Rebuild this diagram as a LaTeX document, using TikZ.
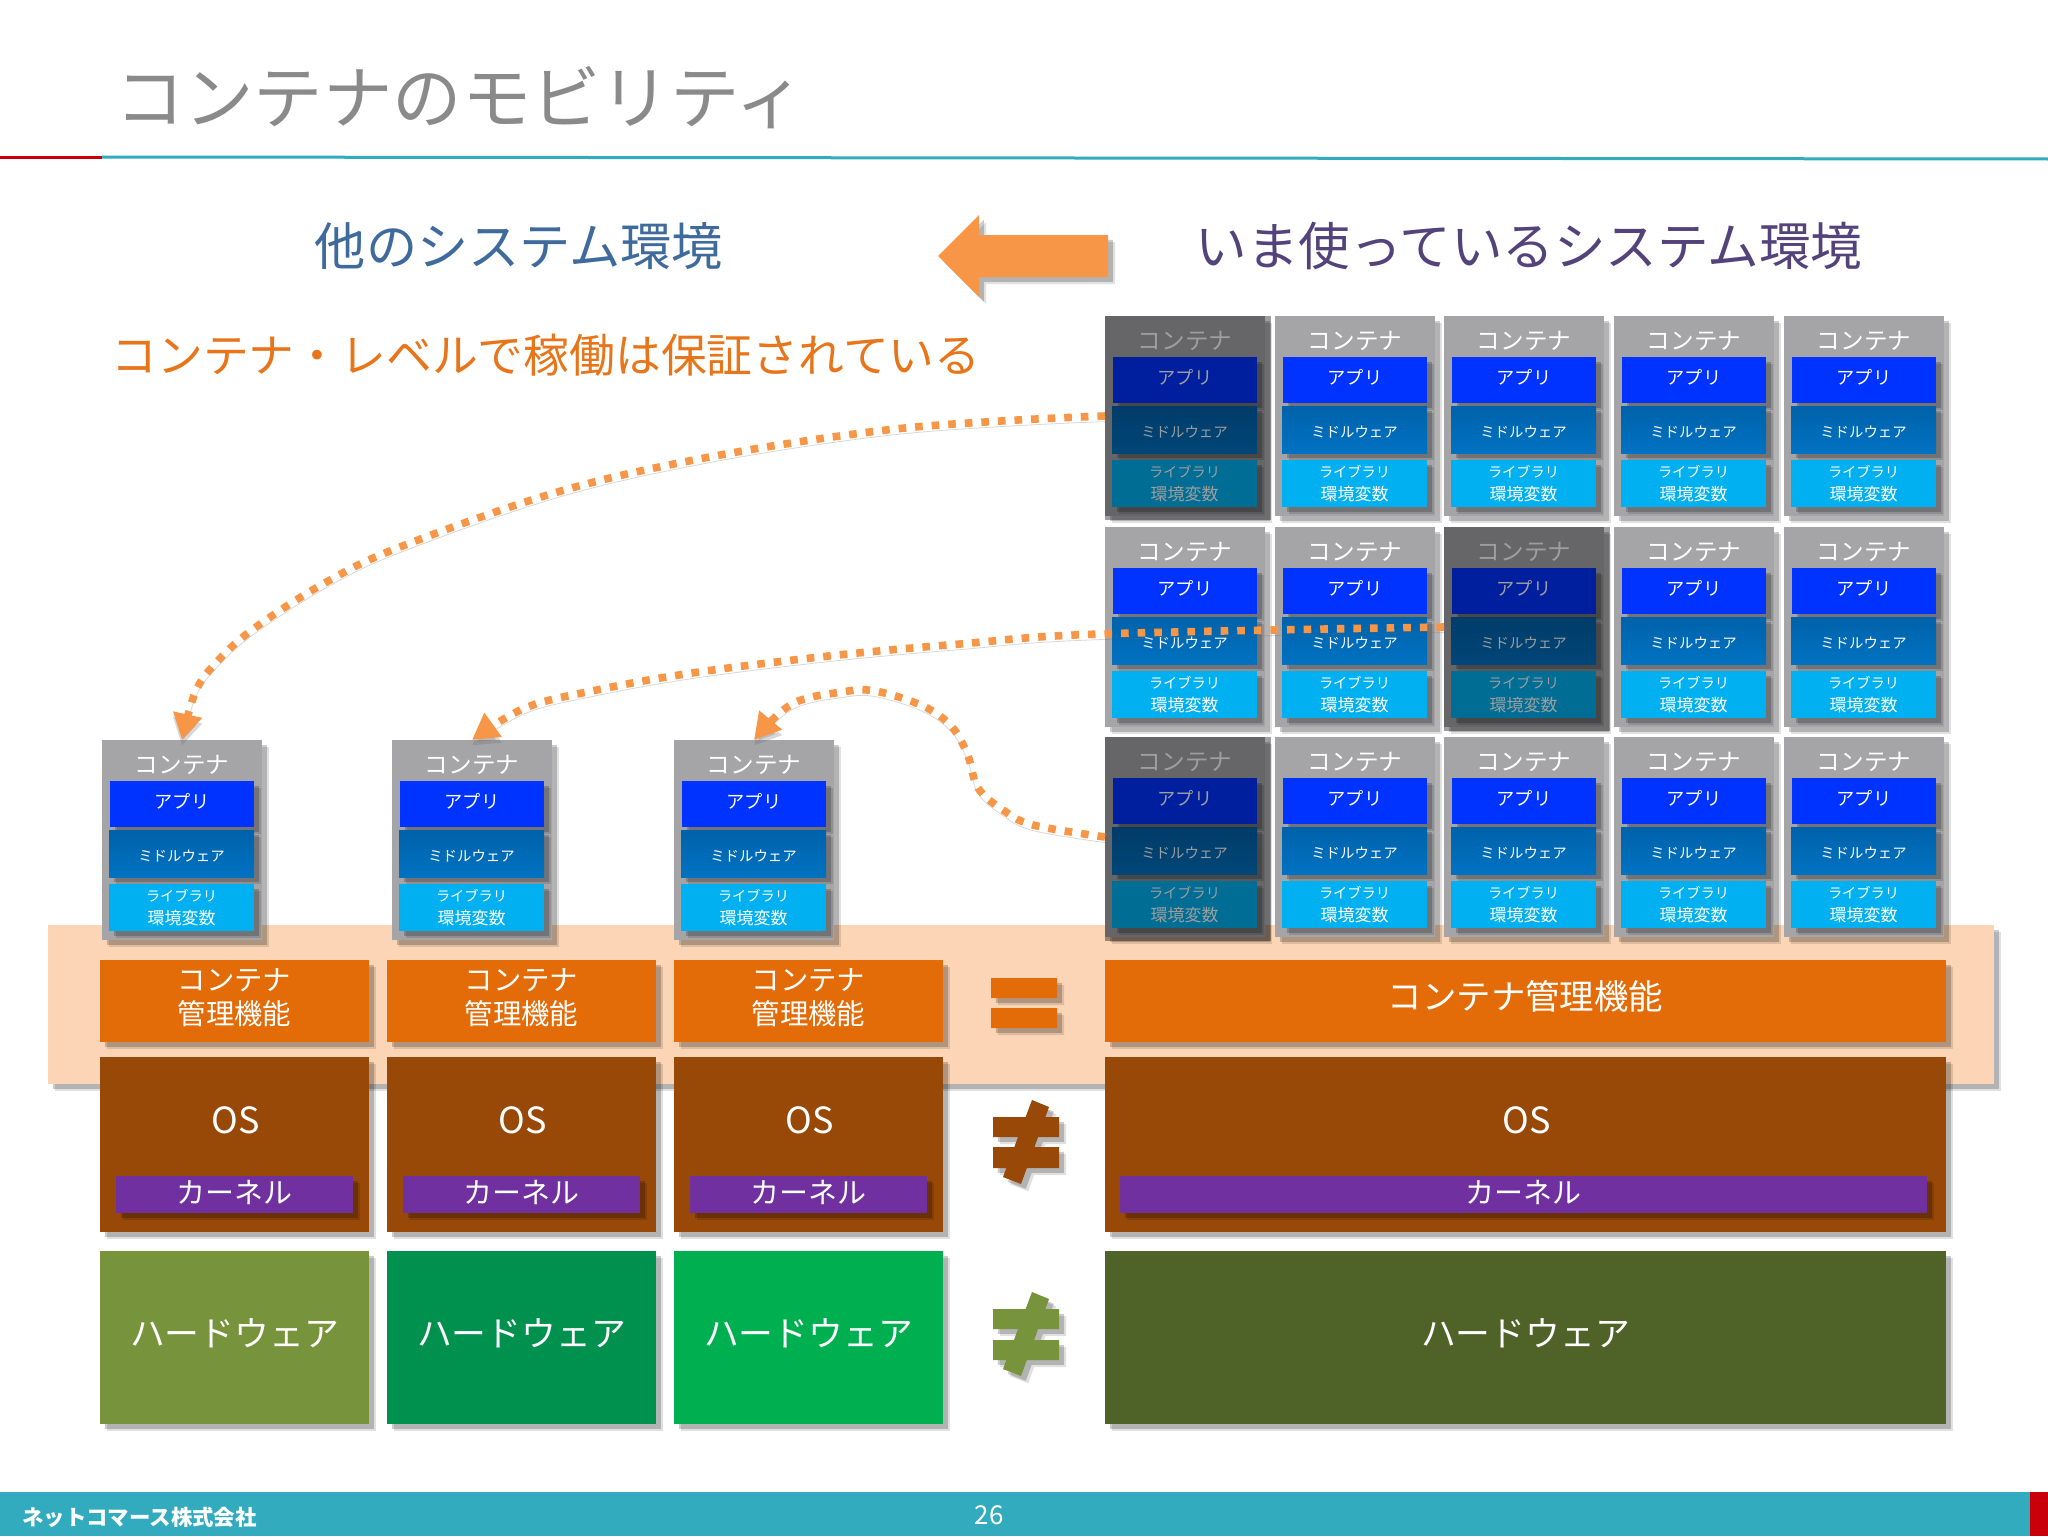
\documentclass[tikz,border=0pt]{standalone}
\usepackage{fontspec}
\setmainfont{Noto Sans CJK JP}
\usetikzlibrary{calc,shadows,arrows.meta}
\definecolor{ctrgray}{HTML}{A5A5A8}
\definecolor{appblue}{HTML}{0033FF}
\definecolor{midtop}{HTML}{0062AA}
\definecolor{midbot}{HTML}{0072C2}
\definecolor{libblue}{HTML}{00B0F0}
\definecolor{peach}{HTML}{FBD5B5}
\definecolor{mgmt}{HTML}{E36C09}
\definecolor{osbrown}{HTML}{984807}
\definecolor{kernel}{HTML}{7030A0}
\definecolor{hwa}{HTML}{77933C}
\definecolor{hwb}{HTML}{00914F}
\definecolor{hwc}{HTML}{00B050}
\definecolor{hwd}{HTML}{4F6228}
\definecolor{arrowor}{HTML}{F79646}
\definecolor{teal}{HTML}{33ABBF}
\definecolor{redbar}{HTML}{C9000A}
\definecolor{titlegray}{HTML}{8A8A8A}
\definecolor{headblue}{HTML}{3E6A9C}
\definecolor{headpurple}{HTML}{54437A}
\definecolor{textor}{HTML}{E8751A}
\tikzset{
  shd/.style={
    general shadow={fill=black,opacity=.12,shadow xshift=3.6pt,shadow yshift=-3.6pt},
    general shadow={fill=black,opacity=.2,shadow xshift=2.4pt,shadow yshift=-2.4pt}},
  blk/.style={shape=rectangle,anchor=north west,inner sep=0pt,outer sep=0pt,text=white,align=center,shd},
  ctr/.style={blk,fill=ctrgray,minimum width=80pt,minimum height=100pt},
  ctrt/.style={inner sep=0pt,text=white,font=\fontsize{11.8}{11.8}\selectfont},
  app/.style={blk,fill=appblue,minimum width=72pt,minimum height=23pt,font=\fontsize{9.1}{9.1}\selectfont},
  mid/.style={blk,top color=midtop,bottom color=midbot,minimum width=72.5pt,minimum height=23.5pt,font=\fontsize{7.2}{7.2}\selectfont},
  lib/.style={blk,fill=libblue,minimum width=72.5pt,minimum height=23.5pt,font=\fontsize{7.1}{10}\selectfont},
  dim/.style={shape=rectangle,anchor=north west,inner sep=0pt,outer sep=0pt,fill=black,opacity=.38,minimum width=83pt,minimum height=102pt},
  mg/.style={blk,fill=mgmt,minimum height=41pt},
  os/.style={blk,fill=osbrown,minimum height=87.5pt},
  kn/.style={blk,fill=kernel,minimum height=18.5pt,font=\fontsize{14.5}{14.5}\selectfont},
  hw/.style={blk,minimum height=86.5pt,font=\fontsize{17.4}{17.4}\selectfont},
  lbl/.style={inner sep=0pt,text=white},
  dotline/.style={draw=arrowor,line width=3.8pt,dash pattern=on 3.8pt off 4.5pt,
    -{Triangle[length=13pt,width=14pt]},
    preaction={draw=black!60,opacity=.25,transform canvas={yshift=-2.8pt}}}
}
\newcommand\ctrbox[3]{%
  \node[ctr] (#1) at (#2,#3) {};
  \node[ctrt] (#1t) at ($(#1.north)+(0,25)$) {コンテナ};
  \node[app] (#1a) at (#2+8,#3+41) {\raisebox{3pt}{アプリ}};
  \node[mid] (#1m) at (#2+7,#3+90) {\raisebox{-3.8pt}[0pt][0pt]{ミドルウェア}};
  \node[lib] (#1l) at (#2+7,#3+144) {ライブラリ\\[1.5pt]{\fontsize{8.5}{10}\selectfont 環境変数}};
}
\begin{document}
\begin{tikzpicture}[x=.5pt,y=-.5pt]
\useasboundingbox (0,0) rectangle (2048,1536);
\fill[white] (0,0) rectangle (2048,1536);
% title and rule
\node[anchor=center,inner sep=0pt,text=titlegray,font=\fontsize{34.7}{35}\selectfont] (title) at (460,98) {コンテナのモビリティ};
\draw[redbar,line width=1.5pt] (0,157) -- (102,157);
\draw[teal,line width=1.5pt] (102,157) -- (2048,159);
% headings
\node[inner sep=0pt,text=headblue,font=\fontsize{25.6}{26}\selectfont] (other) at (519,246) {他のシステム環境};
\node[inner sep=0pt,text=headpurple,font=\fontsize{25.8}{26}\selectfont] (current) at (1529,246) {いま使っているシステム環境};
\node[inner sep=0pt,text=textor,font=\fontsize{22.9}{23}\selectfont] (guar) at (546,355) {コンテナ・レベルで稼働は保証されている};
\path[shd,fill=arrowor] (938,256) -- (979,215) -- (979,235) -- (1108,235) -- (1108,277) -- (979,277) -- (979,297) -- cycle;
% peach band
\node[blk,fill=peach,minimum width=973pt,minimum height=79.5pt] (band) at (48,925) {};
% container grid
\foreach \r/\ry in {1/316,2/527,3/737}{
  \foreach \c/\cx in {1/1105,2/1275,3/1444,4/1614,5/1784}{
    \ctrbox{c\r\c}{\cx}{\ry}
  }
}
% left containers
\ctrbox{la}{102}{740}
\ctrbox{lb}{392}{740}
\ctrbox{lc}{674}{740}
% dimmed containers
\node[dim] (dim11) at (1105,316) {};
\node[dim] (dim23) at (1444,527) {};
\node[dim] (dim31) at (1105,737) {};
% management
\foreach \n/\x in {a/100,b/387,c/674}{
  \node[mg,minimum width=134.5pt] (mg\n) at (\x,960) {};
  \node[lbl,align=center,font=\fontsize{14.2}{17}\selectfont] (mgt\n) at ($(mg\n.center)+(0,-3)$) {コンテナ\\管理機能};
  \node[os,minimum width=134.5pt] (os\n) at (\x,1057) {};
  \node[lbl,font=\fontsize{18}{18}\selectfont] (ost\n) at ($(os\n.north)+(1,63)$) {OS};
  \node[kn,minimum width=118.5pt] (kn\n) at (\x+16,1176) {\raisebox{2.6pt}{カーネル}};
}
\node[mg,minimum width=420.5pt,font=\fontsize{17.2}{17.2}\selectfont] (mgd) at (1105,960) {\raisebox{6.5pt}{コンテナ管理機能}};
\node[os,minimum width=420.5pt] (osd) at (1105,1057) {};
\node[lbl,font=\fontsize{18}{18}\selectfont] (ostd) at ($(osd.north)+(1,63)$) {OS};
\node[kn,minimum width=403.5pt] (knd) at (1120,1176) {\raisebox{2.6pt}{カーネル}};
% hardware
\node[hw,fill=hwa,minimum width=134.5pt] (hwa) at (100,1251) {\raisebox{5pt}{ハードウェア}};
\node[hw,fill=hwb,minimum width=134.5pt] (hwb) at (387,1251) {\raisebox{5pt}{ハードウェア}};
\node[hw,fill=hwc,minimum width=134.5pt] (hwc) at (674,1251) {\raisebox{5pt}{ハードウェア}};
\node[hw,fill=hwd,minimum width=420.5pt] (hwd) at (1105,1251) {\raisebox{5pt}{ハードウェア}};
% signs
\path[shd,fill=mgmt] (991,978) -- (1057,978) -- (1057,998) -- (991,998) -- cycle
  (991,1008) -- (1057,1008) -- (1057,1028) -- (991,1028) -- cycle;
\path[shd,fill=osbrown] (993,1117) -- (1059,1117) -- (1059,1137) -- (993,1137) -- cycle
  (993,1147) -- (1059,1147) -- (1059,1168) -- (993,1168) -- cycle
  (1032,1100) -- (1049,1107) -- (1021,1184) -- (1003,1177) -- cycle;
\path[shd,fill=hwa] (993,1309) -- (1059,1309) -- (1059,1329) -- (993,1329) -- cycle
  (993,1340) -- (1059,1340) -- (1059,1360) -- (993,1360) -- cycle
  (1032,1292) -- (1049,1299) -- (1021,1376) -- (1003,1369) -- cycle;
% connectors
\draw[dotline] plot[smooth,tension=.6] coordinates {(c11.west) (1001,421) (878,431) (715,456) (561,491) (400,547) (323,584) (252,630) (214,665) (195,693) (la.north)};
\draw[dotline] plot[smooth,tension=.6] coordinates {(c23.west) (1100,634) (960,644) (829,656) (692,673) (592,691) (525,708) (lb.north)};
\draw[dotline] plot[smooth,tension=.6] coordinates {(c31.west) (1033,825) (1003,810) (978,788) (968,756) (952,727) (923,706) (875,691) (842,692) (792,704) (lc.north)};
% footer
\fill[teal] (0,1492) rectangle (2030,1536);
\fill[redbar] (2030,1492) rectangle (2048,1536);
\node[lbl,anchor=west,font=\fontsize{10.7}{11}\bfseries\selectfont] (corp) at (22,1517) {ネットコマース株式会社};
\node[lbl,font=\fontsize{13}{13}\selectfont] (page) at (989,1515) {26};
\end{tikzpicture}
\end{document}
